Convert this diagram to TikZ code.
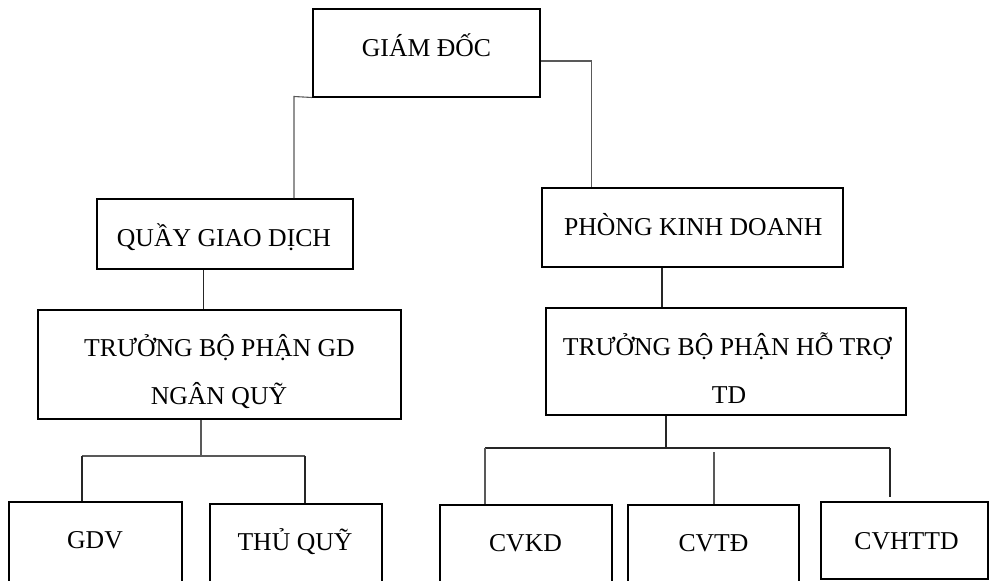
\documentclass[tikz,border=0pt]{standalone}
\usepackage{fontspec}
\setmainfont{Liberation Serif}
\begin{document}
\begin{tikzpicture}[x=1pt,y=-1pt,
  box/.style={draw=black, line width=2pt, inner sep=0pt, rectangle},
  lbl/.style={anchor=base, inner sep=0pt, font=\fontsize{25.7}{30}\selectfont},
  conn/.style={draw=black!65, line width=1.1pt},
  connk/.style={draw=black!85, line width=1.1pt}]
\useasboundingbox (0,0) rectangle (989,581);
\clip (0,0) rectangle (989,581);
% boxes
\node[box, minimum width=227pt, minimum height=87.5pt] (gd) at (426.5,52.75) {};
\node[box, minimum width=256pt, minimum height=70pt] (quay) at (225,234) {};
\node[box, minimum width=301pt, minimum height=79pt] (phong) at (692.8,227.8) {};
\node[box, minimum width=363.3pt, minimum height=108.7pt] (tgd) at (219.35,364.65) {};
\node[box, minimum width=359.7pt, minimum height=107pt] (tht) at (725.65,361.8) {};
\node[box, minimum width=172.4pt, minimum height=87.7pt] (gdv) at (95.5,546.15) {};
\node[box, minimum width=171.5pt, minimum height=86.3pt] (thuquy) at (295.75,546.85) {};
\node[box, minimum width=171.7pt, minimum height=85pt] (cvkd) at (525.85,547.5) {};
\node[box, minimum width=170.7pt, minimum height=85pt] (cvtd) at (713.65,547.5) {};
\node[box, minimum width=167pt, minimum height=77pt] (cvhttd) at (904.5,540.8) {};
% texts
\node[lbl] (tgdt) at (426.5,56.7) {GIÁM ĐỐC};
\node[lbl] (tquay) at (224,246) {QUẦY GIAO DỊCH};
\node[lbl] (tphong) at (693.3,235) {PHÒNG KINH DOANH};
\node[lbl] (ttgd1) at (219.5,356.7) {TRƯỞNG BỘ PHẬN GD};
\node[lbl] (ttgd2) at (219,404.3) {NGÂN QUỸ};
\node[lbl] (ttht1) at (727,355) {TRƯỞNG BỘ PHẬN HỖ TRỢ};
\node[lbl] (ttht2) at (729,403.3) {TD};
\node[lbl] (tgdv) at (95,548.3) {GDV};
\node[lbl] (tthuquy) at (295,550) {THỦ QUỸ};
\node[lbl] (tcvkd) at (525.5,551) {CVKD};
\node[lbl] (tcvtd) at (713.5,551) {CVTĐ};
\node[lbl] (tcvhttd) at (906.5,549) {CVHTTD};
% junction coordinates
\coordinate (cL) at (294,96.5);
\coordinate (cR) at (591.5,61);
\coordinate (xq) at (203.5,0);
\coordinate (xp) at (662,0);
\coordinate (busL) at (201,456);
\coordinate (busLa) at (82,456);
\coordinate (busLb) at (305,456);
\coordinate (busR) at (666,448);
\coordinate (busRa) at (485,448);
\coordinate (busRb) at (890,448);
\coordinate (midR) at (714,452);
\coordinate (endR) at (890,497);
% connectors
\draw[conn] (gd.south west) -- (cL) -- (cL |- quay.north);
\draw[conn] (gd.east |- cR) -- (cR) -- (cR |- phong.north);
\draw[connk] (quay.south -| xq) -- (xq |- tgd.north);
\draw[connk] (phong.south -| xp) -- (xp |- tht.north);
\draw[conn] (tgd.south -| busL) -- (busL);
\draw[conn] (busLa) -- (busLb);
\draw[connk] (busLa) -- (busLa |- gdv.north);
\draw[connk] (busLb) -- (busLb |- thuquy.north);
\draw[connk] (tht.south -| busR) -- (busR);
\draw[connk] (busRa) -- (busRb);
\draw[conn] (busRa) -- (busRa |- cvkd.north);
\draw[conn] (midR) -- (midR |- cvtd.north);
\draw[connk] (busRb) -- (endR);
\end{tikzpicture}
\end{document}
